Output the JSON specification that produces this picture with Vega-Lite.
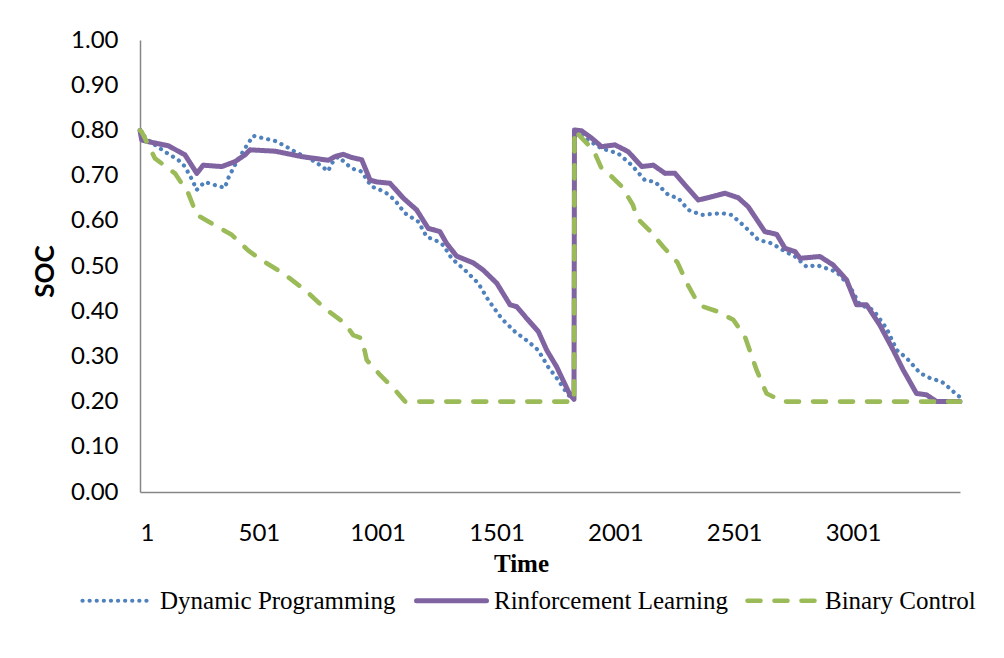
{
  "$schema": "https://vega.github.io/schema/vega-lite/v6.json",
  "width": 820,
  "height": 452,
  "autosize": {"type": "none"},
  "padding": {"left": 140, "top": 40, "right": 44, "bottom": 166},
  "background": "white",
  "config": {"view": {"stroke": null}},
  "datasets": {
    "dp": [[1,0.80],[30,0.78],[105,0.753],[161,0.735],[190,0.72],[225,0.686],[239,0.668],[274,0.686],[316,0.679],[358,0.673],[372,0.694],[400,0.723],[442,0.76],[477,0.788],[568,0.777],[610,0.766],[652,0.753],[737,0.731],[793,0.71],[807,0.727],[835,0.742],[891,0.716],[933,0.709],[975,0.676],[1031,0.664],[1073,0.646],[1115,0.617],[1172,0.598],[1207,0.565],[1256,0.554],[1277,0.546],[1312,0.517],[1368,0.491],[1424,0.462],[1466,0.425],[1522,0.384],[1578,0.355],[1634,0.333],[1676,0.314],[1718,0.277],[1760,0.248],[1802,0.215],[1827,0.205],[1829,0.80],[1873,0.783],[1943,0.76],[2013,0.749],[2070,0.723],[2125,0.69],[2168,0.686],[2224,0.657],[2266,0.65],[2308,0.624],[2364,0.613],[2448,0.617],[2490,0.613],[2546,0.587],[2602,0.558],[2659,0.55],[2715,0.532],[2757,0.521],[2806,0.498],[2848,0.502],[2932,0.487],[2988,0.454],[3030,0.414],[3086,0.403],[3142,0.362],[3185,0.314],[3227,0.296],[3283,0.263],[3325,0.252],[3374,0.244],[3409,0.229],[3437,0.215],[3451,0.21]],
    "rl": [[1,0.80],[8,0.779],[36,0.775],[120,0.766],[190,0.746],[240,0.705],[267,0.723],[345,0.72],[401,0.731],[443,0.746],[464,0.757],[569,0.754],[681,0.742],[793,0.734],[821,0.742],[856,0.747],[892,0.74],[934,0.735],[969,0.69],[997,0.686],[1053,0.683],[1109,0.65],[1165,0.624],[1214,0.583],[1263,0.576],[1291,0.55],[1333,0.522],[1403,0.507],[1445,0.491],[1502,0.462],[1558,0.414],[1586,0.41],[1628,0.384],[1677,0.355],[1712,0.314],[1754,0.277],[1810,0.215],[1827,0.205],[1829,0.801],[1859,0.799],[1901,0.783],[1943,0.764],[1999,0.768],[2055,0.753],[2112,0.72],[2161,0.723],[2210,0.705],[2252,0.705],[2294,0.679],[2350,0.646],[2406,0.653],[2462,0.661],[2518,0.651],[2560,0.631],[2630,0.576],[2680,0.57],[2715,0.539],[2757,0.532],[2778,0.517],[2862,0.521],[2918,0.502],[2974,0.469],[3016,0.414],[3058,0.414],[3114,0.369],[3170,0.314],[3212,0.27],[3268,0.218],[3310,0.215],[3353,0.2],[3451,0.2]],
    "bc": [[1,0.80],[8,0.797],[64,0.738],[148,0.705],[204,0.661],[240,0.613],[303,0.594],[387,0.569],[457,0.534],[513,0.513],[603,0.484],[695,0.447],[779,0.406],[863,0.373],[898,0.347],[934,0.34],[955,0.292],[1011,0.259],[1074,0.226],[1116,0.2],[1827,0.2],[1829,0.8],[1887,0.768],[1915,0.749],[1943,0.716],[1971,0.705],[2028,0.676],[2075,0.635],[2092,0.606],[2142,0.58],[2205,0.541],[2262,0.508],[2304,0.46],[2343,0.423],[2371,0.41],[2427,0.4],[2497,0.381],[2546,0.344],[2595,0.27],[2637,0.218],[2707,0.2],[3451,0.2]]
  },
  "encoding": {
    "x": {
      "field": "time", "type": "quantitative",
      "scale": {"domain": [1, 3451], "nice": false, "zero": false},
      "axis": {
        "values": [1, 501, 1001, 1501, 2001, 2501, 3001], "format": "d",
        "grid": false, "ticks": false, "labelPadding": 29,
        "labelFont": "Lato", "labelFontSize": 24, "labelColor": "#000000",
        "domainColor": "#868686", "domainWidth": 1.5,
        "title": "Time", "titleFont": "Liberation Serif", "titleFontSize": 25, "titleFontWeight": "bold", "titleColor": "#000000",
        "titleX": 381, "titleY": 79, "titleAlign": "center", "titleBaseline": "alphabetic", "titleAnchor": null
      }
    },
    "y": {
      "field": "soc", "type": "quantitative",
      "scale": {"domain": [0, 1], "nice": false},
      "axis": {
        "values": [0, 0.1, 0.2, 0.3, 0.4, 0.5, 0.6, 0.7, 0.8, 0.9, 1.0], "format": ".2f",
        "grid": false, "ticks": false, "labelPadding": 22,
        "labelFont": "Lato", "labelFontSize": 24, "labelColor": "#000000",
        "domainColor": "#868686", "domainWidth": 1.5,
        "title": "SOC", "titleFont": "Lato", "titleFontSize": 26, "titleFontWeight": "bold", "titleColor": "#000000",
        "titleX": -95, "titleY": 231, "titleAngle": -90, "titleAlign": "center", "titleBaseline": "middle", "titleAnchor": null
      }
    },
    "color": {
      "field": "series", "type": "nominal",
      "scale": {"domain": ["Dynamic Programming", "Rinforcement Learning", "Binary Control"], "range": ["#4F81BD", "#8064A2", "#9BBB59"]},
      "legend": {
        "orient": "none", "legendX": -60, "legendY": 523, "direction": "horizontal", "title": null,
        "labelFont": "Liberation Serif", "labelFontSize": 25, "labelColor": "#000000", "labelLimit": 0,
        "symbolType": "stroke", "symbolSize": 4900, "columnPadding": 10, "labelOffset": 5,
        "encode": {"symbols": {"update": {"strokeCap": {"value": "round"}}}}
      }
    },
    "strokeDash": {
      "field": "series", "type": "nominal",
      "scale": {"domain": ["Dynamic Programming", "Rinforcement Learning", "Binary Control"], "range": [[0.1, 7], [1, 0], [13, 14]]},
      "legend": {
        "orient": "none", "legendX": -60, "legendY": 523, "direction": "horizontal", "title": null,
        "labelFont": "Liberation Serif", "labelFontSize": 25, "labelColor": "#000000", "labelLimit": 0,
        "symbolType": "stroke", "symbolSize": 4900, "columnPadding": 10, "labelOffset": 5,
        "encode": {"symbols": {"update": {"strokeCap": {"value": "round"}}}}
      }
    },
    "strokeWidth": {
      "field": "series", "type": "nominal",
      "scale": {"type": "ordinal", "domain": ["Dynamic Programming", "Rinforcement Learning", "Binary Control"], "range": [4.2, 5, 4.6]},
      "legend": {
        "orient": "none", "legendX": -60, "legendY": 523, "direction": "horizontal", "title": null,
        "labelFont": "Liberation Serif", "labelFontSize": 25, "labelColor": "#000000", "labelLimit": 0,
        "symbolType": "stroke", "symbolSize": 4900, "columnPadding": 10, "labelOffset": 5,
        "encode": {"symbols": {"update": {"strokeCap": {"value": "round"}}}}
      }
    }
  },
  "layer": [
    {
      "data": {"name": "dp"},
      "transform": [{"calculate": "'Dynamic Programming'", "as": "series"}, {"calculate": "datum[0]", "as": "time"}, {"calculate": "datum[1]", "as": "soc"}],
      "mark": {"type": "line", "strokeCap": "round", "strokeJoin": "round"}
    },
    {
      "data": {"name": "rl"},
      "transform": [{"calculate": "'Rinforcement Learning'", "as": "series"}, {"calculate": "datum[0]", "as": "time"}, {"calculate": "datum[1]", "as": "soc"}],
      "mark": {"type": "line", "strokeCap": "round", "strokeJoin": "round"}
    },
    {
      "data": {"name": "bc"},
      "transform": [{"calculate": "'Binary Control'", "as": "series"}, {"calculate": "datum[0]", "as": "time"}, {"calculate": "datum[1]", "as": "soc"}],
      "mark": {"type": "line", "strokeCap": "round", "strokeJoin": "round"}
    }
  ]
}
